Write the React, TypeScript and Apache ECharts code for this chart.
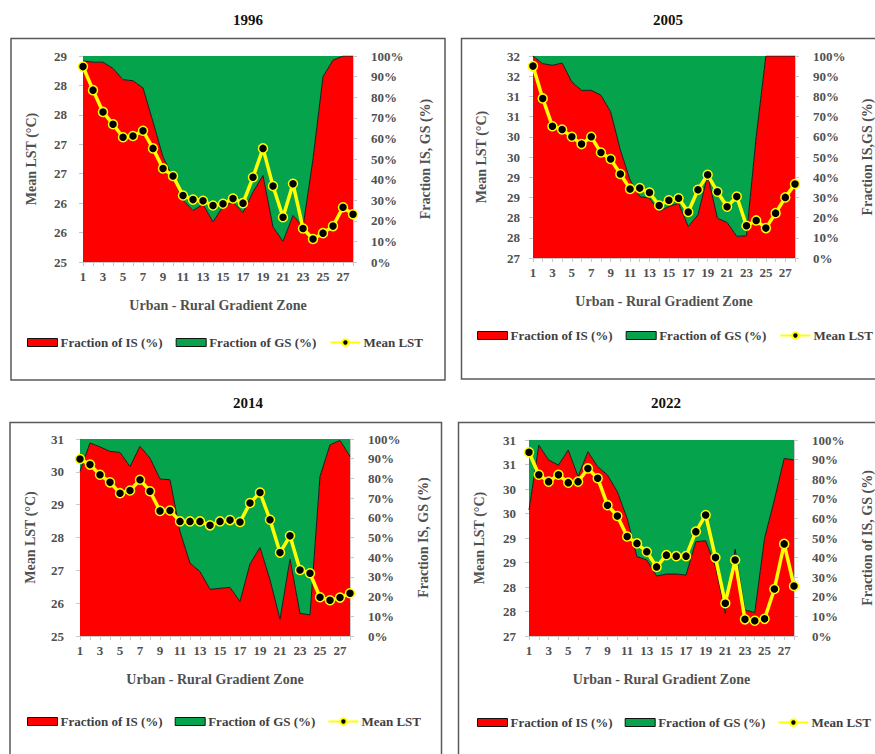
import React, { useEffect, useRef } from "react";
import * as echarts from "echarts";

const ZONES = ["1","2","3","4","5","6","7","8","9","10","11","12","13","14","15","16","17","18","19","20","21","22","23","24","25","26","27","28"];

const LST1996 = [28.32, 27.92, 27.55, 27.34, 27.12, 27.14, 27.23, 26.93, 26.59, 26.46, 26.13, 26.06, 26.04, 25.96, 25.99, 26.08, 26.0, 26.44, 26.93, 26.29, 25.76, 26.33, 25.57, 25.39, 25.49, 25.61, 25.93, 25.81];
const IS1996 = [97.6, 97, 97, 94, 88.5, 88, 84.5, 68, 51, 41, 30, 25, 28, 19.5, 27, 29, 24, 34, 42, 17, 10, 22.6, 17, 50, 90, 98, 100, 100];
const GS1996 = [2.4, 3, 3, 6, 11.5, 12, 15.5, 32, 49, 59, 70, 75, 72, 80.5, 73, 71, 76, 66, 58, 83, 90, 77.4, 83, 50, 10, 2, 0, 0];

const LST2005 = [31.75, 30.95, 30.26, 30.18, 30.0, 29.82, 30.0, 29.61, 29.45, 29.08, 28.71, 28.73, 28.62, 28.3, 28.43, 28.48, 28.14, 28.69, 29.06, 28.64, 28.27, 28.52, 27.8, 27.93, 27.74, 28.11, 28.5, 28.83];
const IS2005 = [100, 96.2, 95.4, 96.5, 87.2, 83, 83, 80.6, 72.4, 53.5, 38.7, 30.4, 29.6, 23, 25.5, 27.1, 15.6, 21.4, 41, 19.7, 17.6, 10.7, 11, 60, 100, 100, 100, 100];
const GS2005 = [0, 3.8, 4.6, 3.5, 12.8, 17, 17, 19.4, 27.6, 46.5, 61.3, 69.6, 70.4, 77, 74.5, 72.9, 84.4, 78.6, 59, 80.3, 82.4, 89.3, 89, 40, 0, 0, 0, 0];

const LST2014 = [30.39, 30.22, 29.91, 29.68, 29.35, 29.43, 29.76, 29.41, 28.81, 28.82, 28.49, 28.49, 28.49, 28.37, 28.49, 28.53, 28.47, 29.05, 29.37, 28.54, 27.54, 28.05, 27.01, 26.91, 26.18, 26.09, 26.17, 26.3];
const IS2014 = [83.6, 98, 96, 93.7, 93.2, 86, 96.3, 90.3, 79.7, 79.3, 53, 37, 32.7, 23.7, 24.2, 24.7, 17.5, 36.6, 45, 28.5, 8.5, 39, 11.5, 10.7, 81, 97, 99.3, 91.2];
const GS2014 = [16.4, 2, 4, 6.3, 6.8, 14, 3.7, 9.7, 20.3, 20.7, 47, 63, 67.3, 76.3, 75.8, 75.3, 82.5, 63.4, 55, 71.5, 91.5, 61, 88.5, 89.3, 19, 3, 0.7, 8.8];

const LST2022 = [30.75, 30.29, 30.15, 30.29, 30.13, 30.15, 30.42, 30.22, 29.67, 29.45, 29.03, 28.89, 28.72, 28.41, 28.65, 28.63, 28.63, 29.13, 29.47, 28.6, 27.67, 28.55, 27.34, 27.31, 27.35, 27.96, 28.88, 28.02];
const IS2022 = [64.3, 97.4, 89.8, 87.2, 94.9, 81.3, 94, 86.4, 82.1, 73.6, 60, 40.5, 38.8, 30.6, 31.6, 31.6, 31.1, 48.1, 48.6, 35.4, 11.6, 44.2, 13.3, 11.9, 49.8, 69.4, 90.6, 89.8];
const GS2022 = [35.7, 2.6, 10.2, 12.8, 5.1, 18.7, 6, 13.6, 17.9, 26.4, 40, 59.5, 61.2, 69.4, 68.4, 68.4, 68.9, 51.9, 51.4, 64.6, 88.4, 55.8, 86.7, 88.1, 50.2, 30.6, 9.4, 10.2];

const YEARS = ["1996", "2005", "2014", "2022"];
const LST_MIN = [25, 27, 25, 27];
const LST_MAX = [28.5, 32, 31, 31];
const LST_STEP = [0.5, 0.5, 1, 0.5];
const RIGHT_TITLES = ["Fraction IS, GS (%)", "Fraction IS,GS (%)", "Fraction IS, GS (%)", "Fraction of IS, GS (%)"];
const LEGEND_NAMES = ["Fraction of IS (%)", "Fraction of GS (%)", "Mean LST"];

const LST = [LST1996, LST2005, LST2014, LST2022];
const IS = [IS1996, IS2005, IS2014, IS2022];
const GS = [GS1996, GS2005, GS2014, GS2022];

const FONT = "'Liberation Serif', 'Times New Roman', serif";
const RED = "#ff0000";
const GREEN = "#05a34b";
const YELLOW = "#ffff00";

// layout (pixels)
const GRIDS = [
  { left: 83, top: 56, width: 270, height: 206, lGap: 16, nameL: 45, nameR: 65 },
  { left: 533, top: 56, width: 262, height: 202, lGap: 13, nameL: 45, nameR: 65 },
  { left: 80, top: 439, width: 270, height: 197, lGap: 16, nameL: 43, nameR: 66 },
  { left: 529, top: 440, width: 265, height: 196, lGap: 13, nameL: 43, nameR: 66 },
];
const BOXES = [
  { x: 11, y: 38.5, w: 434, h: 341.5 },
  { x: 461.5, y: 38.5, w: 440, h: 340.5 },
  { x: 10, y: 422.5, w: 431.5, h: 360 },
  { x: 458.5, y: 422.5, w: 440, h: 360 },
];
const TITLE_POS = [
  { x: 248, y: 20 },
  { x: 668, y: 20 },
  { x: 248, y: 403 },
  { x: 666, y: 403 },
];
const LEGEND_POS = [
  { left: 27, top: 336, gap: 13 },
  { left: 477, top: 329, gap: 13 },
  { left: 27, top: 715, gap: 12 },
  { left: 477, top: 716, gap: 12 },
];

export default function App() {
  const ref = useRef<HTMLDivElement>(null);
  useEffect(() => {
    if (!ref.current) return;
    const chart = echarts.init(ref.current, null, { renderer: "svg" });
    const grid: any[] = [];
    const xAxis: any[] = [];
    const yAxis: any[] = [];
    const series: any[] = [];
    const legend: any[] = [];
    const graphic: any[] = [];
    const labelStyle = { color: "#505050", fontFamily: FONT, fontWeight: "bold", fontSize: 13 };
    const nameStyle = { color: "#505050", fontFamily: FONT, fontWeight: "bold", fontSize: 14 };
    const tickStyle = { show: true, length: 4, lineStyle: { color: "#c8c8c8" } };
    const lineAx = { show: true, lineStyle: { color: "#c8c8c8" } };

    for (let p = 0; p < 4; p++) {
      const g = GRIDS[p];
      grid.push({ left: g.left, top: g.top, width: g.width, height: g.height, containLabel: false, show: false });
      xAxis.push({
        type: "category",
        gridIndex: p,
        data: ZONES,
        boundaryGap: false,
        axisLine: lineAx,
        axisTick: { ...tickStyle, interval: 0 },
        axisLabel: { ...labelStyle, interval: 1, margin: 8 },
        name: "Urban - Rural Gradient Zone",
        nameLocation: "middle",
        nameGap: 36,
        nameTextStyle: nameStyle,
        splitLine: { show: false },
      });
      yAxis.push({
        type: "value",
        gridIndex: p,
        position: "left",
        min: LST_MIN[p],
        max: LST_MAX[p],
        interval: LST_STEP[p],
        axisLine: lineAx,
        axisTick: tickStyle,
        axisLabel: { ...labelStyle, margin: g.lGap, formatter: (v: number) => String(Math.round(v)) },
        splitLine: { show: false },
        name: "Mean LST (°C)",
        nameLocation: "middle",
        nameRotate: 90,
        nameGap: g.nameL,
        nameTextStyle: nameStyle,
      });
      yAxis.push({
        type: "value",
        gridIndex: p,
        position: "right",
        min: 0,
        max: 100,
        interval: 10,
        axisLine: lineAx,
        axisTick: tickStyle,
        axisLabel: { ...labelStyle, margin: 18, formatter: "{value}%" },
        splitLine: { show: false },
        name: RIGHT_TITLES[p],
        nameLocation: "middle",
        nameRotate: 90,
        nameGap: g.nameR,
        nameTextStyle: nameStyle,
      });
      series.push({
        name: LEGEND_NAMES[0],
        type: "line",
        xAxisIndex: p,
        yAxisIndex: p * 2 + 1,
        stack: "frac" + p,
        data: IS[p],
        showSymbol: false,
        symbol: "none",
        lineStyle: { color: "#1a1a1a", width: 1 },
        itemStyle: { color: RED },
        areaStyle: { color: RED, opacity: 1 },
        z: 1,
      });
      series.push({
        name: LEGEND_NAMES[1],
        type: "line",
        xAxisIndex: p,
        yAxisIndex: p * 2 + 1,
        stack: "frac" + p,
        data: GS[p],
        showSymbol: false,
        symbol: "none",
        lineStyle: { width: 0, color: GREEN },
        itemStyle: { color: GREEN },
        areaStyle: { color: GREEN, opacity: 1 },
        z: 1,
      });
      series.push({
        name: LEGEND_NAMES[2],
        type: "line",
        xAxisIndex: p,
        yAxisIndex: p * 2,
        data: LST[p],
        symbol: "circle",
        symbolSize: 9,
        showSymbol: true,
        showAllSymbol: true,
        clip: false,
        lineStyle: { color: YELLOW, width: 3.5 },
        itemStyle: { color: "#000", borderColor: YELLOW, borderWidth: 1.5 },
        z: 5,
      });
      legend.push({
        left: LEGEND_POS[p].left,
        top: LEGEND_POS[p].top,
        orient: "horizontal",
        padding: 0,
        itemWidth: 30,
        itemHeight: 8,
        itemGap: LEGEND_POS[p].gap,
        selectedMode: false,
        textStyle: { color: "#404040", fontFamily: FONT, fontWeight: "bold", fontSize: 13, padding: [0, 0, 0, -2] },
        data: [
          { name: LEGEND_NAMES[0], icon: "rect", itemStyle: { color: RED, borderColor: "#111", borderWidth: 1 } },
          { name: LEGEND_NAMES[1], icon: "rect", itemStyle: { color: GREEN, borderColor: "#111", borderWidth: 1 } },
          { name: LEGEND_NAMES[2] },
        ],
      });
      const b = BOXES[p];
      graphic.push({
        type: "rect",
        shape: { x: b.x, y: b.y, width: b.w, height: b.h },
        style: { fill: "none", stroke: "#5a5a5a", lineWidth: 1.5 },
        z: 0,
        silent: true,
      });
      graphic.push({
        type: "text",
        x: TITLE_POS[p].x,
        y: TITLE_POS[p].y,
        style: {
          text: YEARS[p],
          align: "center",
          verticalAlign: "middle",
          font: `bold 15px 'Liberation Serif'`,
          fill: "#111",
        },
        silent: true,
      });
    }

    chart.setOption({
      animation: false,
      backgroundColor: "#ffffff",
      grid,
      xAxis,
      yAxis,
      series,
      legend,
      graphic,
    });
    return () => chart.dispose();
  }, []);
  return (
    <div
      ref={ref}
      style={{ position: "fixed", left: 0, top: 0, width: 875, height: 754, background: "#fff" }}
    />
  );
}
